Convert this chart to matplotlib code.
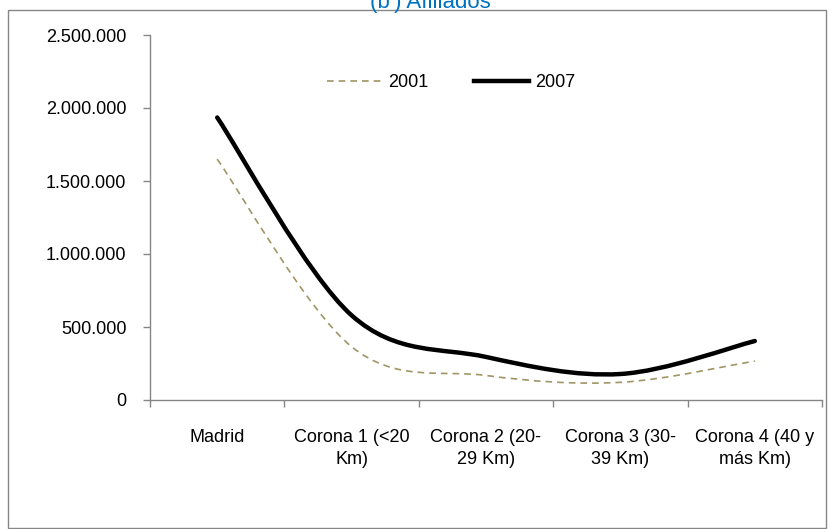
''' Afiliados por corona, 2001 vs 2007 '''

import matplotlib
matplotlib.use('Agg')
import matplotlib.pyplot as plt
from matplotlib.path import Path
from matplotlib.patches import PathPatch, Rectangle
from matplotlib.lines import Line2D
from matplotlib.ticker import FuncFormatter

categories = ['Madrid', 'Corona 1 (<20\nKm)', 'Corona 2 (20-\n29 Km)',
              'Corona 3 (30-\n39 Km)', 'Corona 4 (40 y\nmás Km)']
afiliados_2001 = [1650000, 365000, 168000, 121000, 267000]
afiliados_2007 = [1935000, 580000, 295000, 178000, 404000]
yticks = [0, 500000, 1000000, 1500000, 2000000, 2500000]

plt.rcParams['font.family'] = ['Liberation Sans', 'DejaVu Sans']
plt.rcParams['font.size'] = 13

AXIS_GREY = '#868686'
OLIVE = '#A09565'


def smooth_path(xs, ys):
    ''' Excel-like smoothed line: cubic Bezier segments through every point '''
    pts = list(zip(xs, ys))
    ext = [pts[0]] + pts + [pts[-1]]
    verts = [pts[0]]
    codes = [Path.MOVETO]
    for i in range(len(pts) - 1):
        p0, p1, p2, p3 = ext[i], ext[i + 1], ext[i + 2], ext[i + 3]
        c1 = (p1[0] + (p2[0] - p0[0]) / 6, p1[1] + (p2[1] - p0[1]) / 6)
        c2 = (p2[0] - (p3[0] - p1[0]) / 6, p2[1] - (p3[1] - p1[1]) / 6)
        verts += [c1, c2, p2]
        codes += [Path.CURVE4] * 3
    return Path(verts, codes)


def _main():
    fig = plt.figure(figsize=(8.35, 5.29), dpi=100)
    W, H = 835, 529
    ax = fig.add_axes([150 / W, 1 - 400 / H, (822 - 150) / W, (400 - 35) / H])

    xs = list(range(len(categories)))

    ax.add_patch(PathPatch(smooth_path(xs, afiliados_2001), fill=False,
                           edgecolor=OLIVE, linewidth=1.2,
                           linestyle=(0, (4, 3)), capstyle='butt'))
    ax.add_patch(PathPatch(smooth_path(xs, afiliados_2007), fill=False,
                           edgecolor='black', linewidth=3.2, capstyle='round'))

    ax.set_xlim(-0.5, len(categories) - 0.5)
    ax.set_ylim(0, 2500000)
    ax.set_yticks(yticks)
    ax.yaxis.set_major_formatter(FuncFormatter(lambda v, _: f'{int(v):,}'.replace(',', '.')))

    ax.set_xticks(xs)
    ax.set_xticklabels(categories, linespacing=1.4, va='top')
    ax.set_xticks([x - 0.5 for x in range(len(categories) + 1)], minor=True)
    ax.tick_params(axis='x', which='major', length=0, pad=21)
    ax.tick_params(axis='x', which='minor', length=5, color=AXIS_GREY, width=1)
    ax.tick_params(axis='y', length=5, color=AXIS_GREY, width=1, pad=12)

    for side in ['top', 'right']:
        ax.spines[side].set_visible(False)
    for side in ['left', 'bottom']:
        ax.spines[side].set_color(AXIS_GREY)
        ax.spines[side].set_linewidth(1)

    handles = [
        Line2D([], [], color=OLIVE, linewidth=1.2, linestyle=(0, (4, 3))),
        Line2D([], [], color='black', linewidth=3.2),
    ]
    fig.legend(handles, ['2001', '2007'], loc='center', ncol=2, frameon=False,
               bbox_to_anchor=(451 / W, 1 - 83 / H), handlelength=3.05,
               columnspacing=2.5, handletextpad=0.35)

    # the title sits mostly above the picture, as in the original chart
    fig.text(430 / W, 1 - 8 / H, "(b') Afiliados", color='#0070C0', fontsize=16,
             ha='center', va='baseline')

    fig.patches.append(Rectangle((8 / W, 1 - 528 / H), (826 - 8) / W, (528 - 10) / H,
                                 transform=fig.transFigure, fill=False,
                                 edgecolor=AXIS_GREY, linewidth=1))

    fig.savefig('out.png', dpi=100)


if __name__ == "__main__":
    _main()
